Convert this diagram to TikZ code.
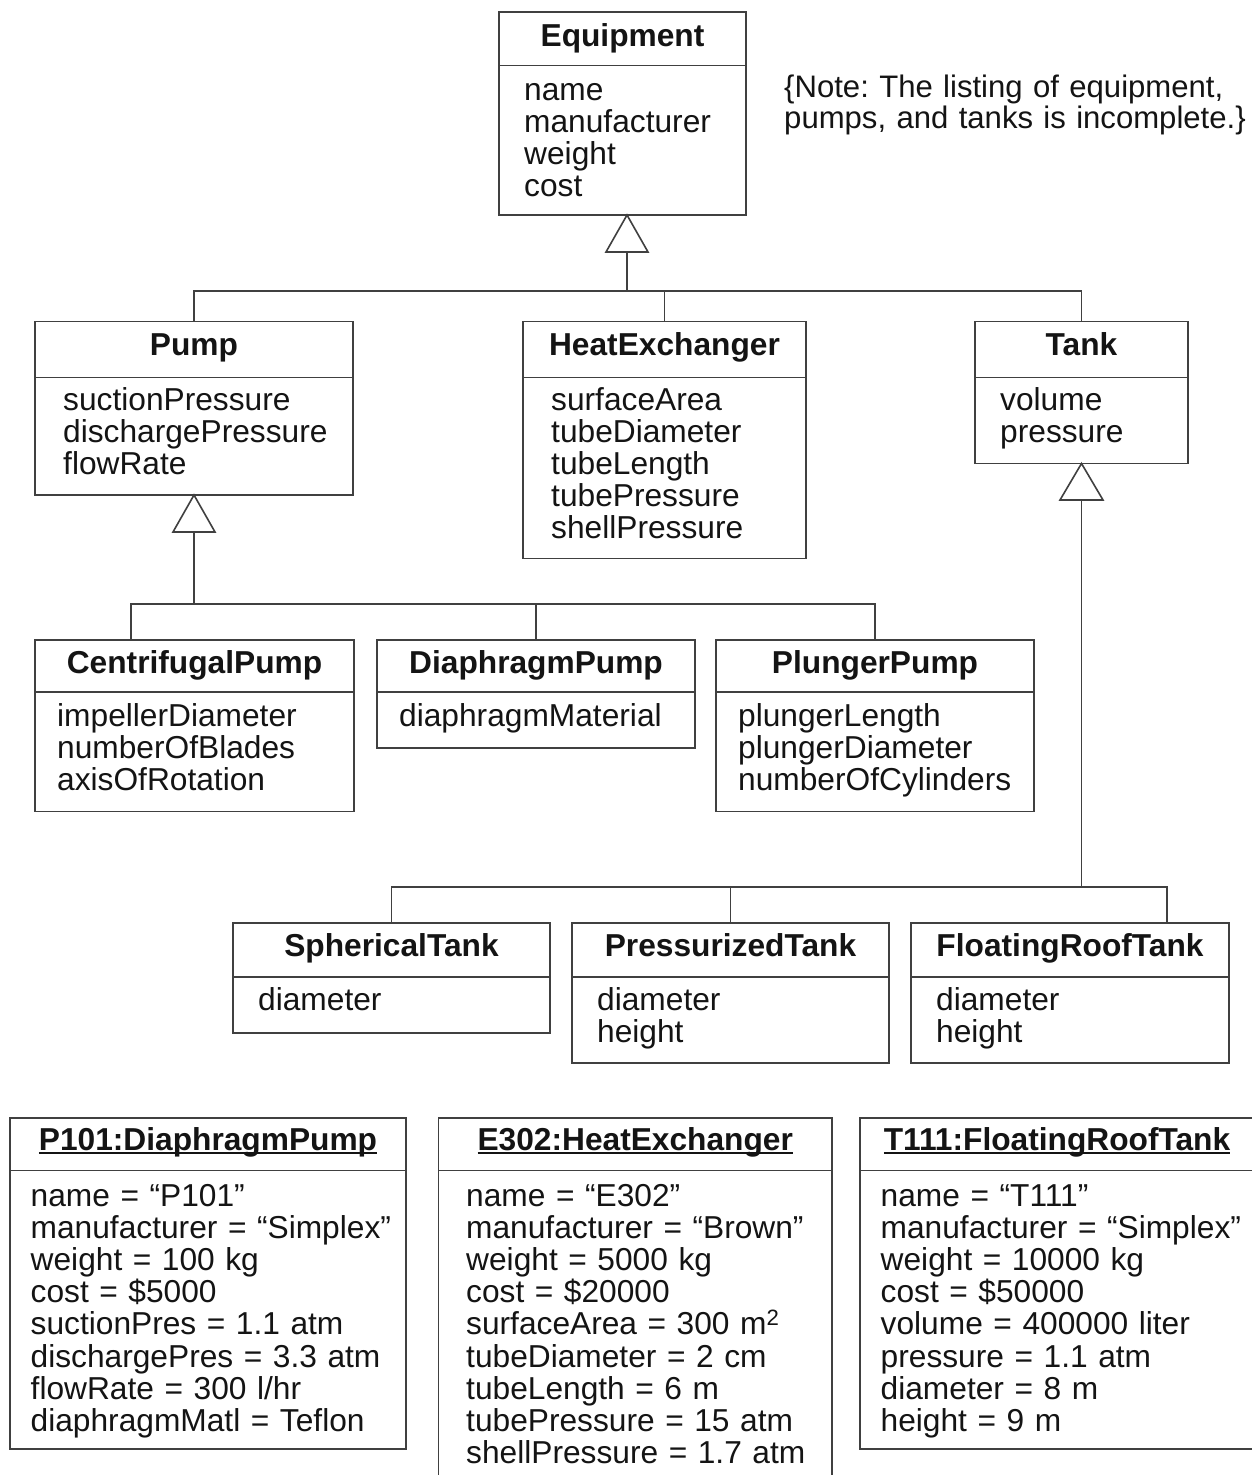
\documentclass[tikz,border=0pt]{standalone}
\usepackage{fontspec}
\setmainfont{Liberation Sans}
\usetikzlibrary{calc}
\frenchspacing
\newcommand\attrfont{\fontsize{31.7}{32.2}\selectfont\frenchspacing}
\newcommand\notefont{\fontsize{31.1}{31.2}\selectfont\frenchspacing}
\newcommand\objul[1]{\setbox0=\hbox{#1}\rlap{\rule[-4pt]{\wd0}{1.7pt}}\box0}
\tikzset{
  umlbox/.style={draw=black!75, line width=1.6pt, fill=white, inner sep=0pt, outer sep=0pt},
  ttl/.style={font=\bfseries\fontsize{31.7}{32.2}\selectfont, anchor=base, inner sep=0pt, text=black!92},
  attr/.style={font=\attrfont, anchor=base west, inner sep=0pt, text width=520pt, text=black!92},
  conn/.style={draw=black!75, line width=1.6pt},
  gen/.style={draw=black!75, line width=1.6pt, fill=white, line join=miter},
}
% name, x1, y1, x2, y2, divider y, title, title baseline
\newcommand\umlclass[8]{%
  \node[umlbox, minimum width={#4-#2}, minimum height={#5-#3}] (#1) at ({(#2+#4)/2},{(#3+#5)/2}) {};
  \draw[conn] (#1.west |- 0,#6) -- (#1.east |- 0,#6);
  \node[ttl] (#1-t) at (#1.center |- 0,#8) {#7};
}
\begin{document}
\begin{tikzpicture}[x=1pt,y=-1pt]
\fill[white] (0,0) rectangle (1252,1475);
\useasboundingbox (0,0) rectangle (1252,1475);

% ---------- classes ----------
\umlclass{eq}{499}{12}{746}{215}{65.5}{Equipment}{46}
\node[attr] (eq-a) at (524,100) {\attrfont name\\manufacturer\\weight\\cost\par};

\node[attr, font=\notefont] (note) at (784,97) {\notefont \{Note: The listing of equipment,\\pumps, and tanks is incomplete.\}\par};

\umlclass{pump}{35}{321.5}{353}{495}{377.5}{Pump}{355}
\node[attr] (pump-a) at (63,410) {\attrfont suctionPressure\\dischargePressure\\flowRate\par};

\umlclass{heat}{523}{321.5}{806}{558.5}{377.5}{HeatExchanger}{355}
\node[attr] (heat-a) at (551,410) {\attrfont surfaceArea\\tubeDiameter\\tubeLength\\tubePressure\\shellPressure\par};

\umlclass{tank}{975}{321.5}{1188}{463.5}{377.5}{Tank}{355}
\node[attr] (tank-a) at (1000,410) {\attrfont volume\\pressure\par};

\umlclass{cp}{35}{640}{354}{811.5}{692}{CentrifugalPump}{673}
\node[attr] (cp-a) at (57,726.5) {\attrfont impellerDiameter\\numberOfBlades\\axisOfRotation\par};

\umlclass{dp}{377}{640}{695}{748}{692}{DiaphragmPump}{673}
\node[attr] (dp-a) at (399,726.5) {\attrfont diaphragmMaterial\par};

\umlclass{pp}{716}{640}{1034}{811.5}{692}{PlungerPump}{673}
\node[attr] (pp-a) at (738,726.5) {\attrfont plungerLength\\plungerDiameter\\numberOfCylinders\par};

\umlclass{st}{233}{923}{550}{1033}{977}{SphericalTank}{956}
\node[attr] (st-a) at (258,1010) {\attrfont diameter\par};

\umlclass{pt}{572}{923}{889}{1063}{977}{PressurizedTank}{956}
\node[attr] (pt-a) at (597,1010) {\attrfont diameter\\height\par};

\umlclass{ft}{911}{923}{1229}{1063}{977}{FloatingRoofTank}{956}
\node[attr] (ft-a) at (936,1010) {\attrfont diameter\\height\par};

% ---------- objects ----------
\umlclass{o1}{10}{1118}{406}{1449}{1170.5}{\objul{P101:DiaphragmPump}}{1150}
\node[attr] (o1-a) at (30.5,1206) {\attrfont name = “P101”\\manufacturer = “Simplex”\\weight = 100 kg\\cost = \$5000\\suctionPres = 1.1 atm\\dischargePres = 3.3 atm\\flowRate = 300 l/hr\\diaphragmMatl = Teflon\par};

\umlclass{o2}{438.5}{1118}{832}{1495}{1170.5}{\objul{E302:HeatExchanger}}{1150}
\node[attr] (o2-a) at (466,1206) {\attrfont name = “E302”\\manufacturer = “Brown”\\weight = 5000 kg\\cost = \$20000\\surfaceArea = 300 m\textsuperscript{2}\\tubeDiameter = 2 cm\\tubeLength = 6 m\\tubePressure = 15 atm\\shellPressure = 1.7 atm\par};

\umlclass{o3}{860}{1118}{1254}{1449}{1170.5}{\objul{T111:FloatingRoofTank}}{1150}
\node[attr] (o3-a) at (880.5,1206) {\attrfont name = “T111”\\manufacturer = “Simplex”\\weight = 10000 kg\\cost = \$50000\\volume = 400000 liter\\pressure = 1.1 atm\\diameter = 8 m\\height = 9 m\par};

% ---------- generalization: Equipment ----------
\coordinate (eqA) at (eq.south -| 627,0);
\coordinate (eqB) at (627,252);
\coordinate (eqJ) at (627,291);
\draw[conn] (eqB) -- (eqJ);
\draw[conn] (pump.north) |- (eqJ) -| (tank.north);
\draw[conn] (heat.north) -- (heat.north |- eqJ);
\draw[gen] (eqA) -- (606,252) -- (648,252) -- cycle;

% ---------- generalization: Pump ----------
\coordinate (pA) at (pump.south);
\coordinate (pB) at ($(pump.south)+(0,37)$);
\coordinate (pJ) at (pump.south |- 0,604);
\draw[conn] (pB) -- (pJ);
\draw[conn] ([xshift=-63.5pt]cp.north) |- (pJ) -| (pp.north);
\draw[conn] (dp.north) -- (dp.north |- pJ);
\draw[gen] (pA) -- ($(pA)+(-21,37)$) -- ($(pA)+(21,37)$) -- cycle;

% ---------- generalization: Tank ----------
\coordinate (tA) at (tank.south);
\coordinate (tB) at ($(tank.south)+(0,36.5)$);
\coordinate (tJ) at (tank.south |- 0,887);
\draw[conn] (tB) -- (tJ);
\draw[conn] (st.north) |- (tJ) -| ([xshift=97pt]ft.north);
\draw[conn] (pt.north) -- (pt.north |- tJ);
\draw[gen] (tA) -- ($(tA)+(-21.5,36.5)$) -- ($(tA)+(21.5,36.5)$) -- cycle;
\end{tikzpicture}
\end{document}
